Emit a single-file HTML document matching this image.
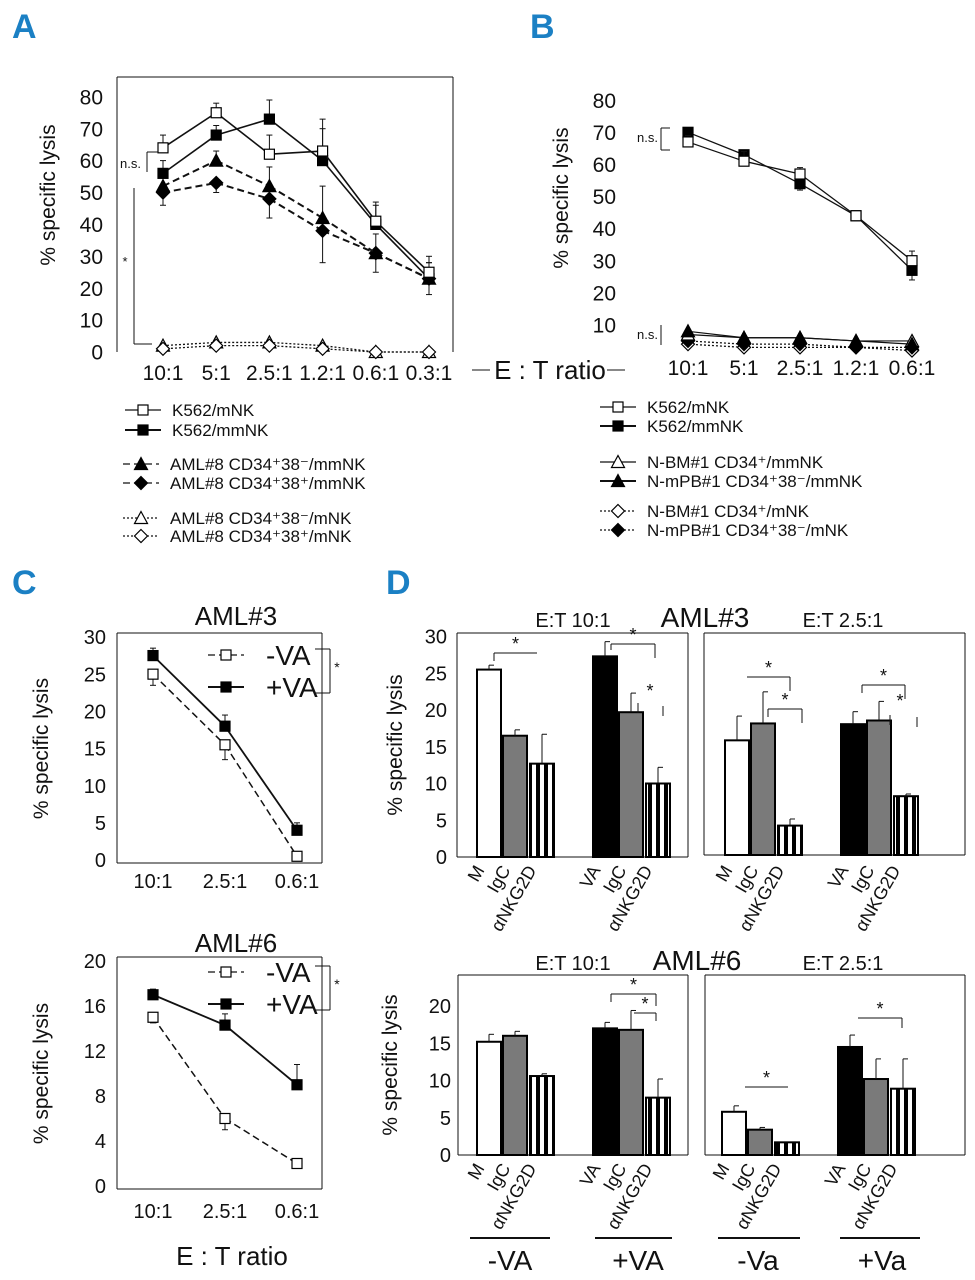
<!DOCTYPE html>
<html><head><meta charset="utf-8">
<style>
html,body{margin:0;padding:0;background:#fff;}
svg{display:block;font-family:"Liberation Sans Narrow","Liberation Sans",sans-serif;}
.lbl{font-family:"Liberation Sans Narrow","Liberation Sans",sans-serif;}
</style></head>
<body>
<svg id="fig" width="975" height="1280" viewBox="0 0 975 1280" xmlns="http://www.w3.org/2000/svg">
<g font-weight="bold" font-size="34" fill="#1b80c4" font-family="Liberation Sans Narrow, Liberation Sans, sans-serif">
<text x="12" y="38">A</text>
<text x="530" y="38">B</text>
<text x="12" y="594">C</text>
<text x="386" y="594">D</text>
</g>
<g id="root"></g>
</svg>
<script>
// ---------- DATA ----------
var catsA = ["10:1","5:1","2.5:1","1.2:1","0.6:1","0.3:1"];
var aK562mNK = [64,75,62,63,41,25];
var aK562mmNK = [56,68,73,60,40,23];
var aAml38negMM = [52,60,52,42,31,23];
var aAml38posMM = [50,53,48,38,31,23];
var aAml38negM = [2,3,3,2,0,0];
var aAml38posM = [1,2,2,1,0,0];
var aErr = [4,3,6,10,6,5];
var yTicksA = [0,10,20,30,40,50,60,70,80];

var catsB = ["10:1","5:1","2.5:1","1.2:1","0.6:1"];
var bK562mNK = [67,61,57,44,30];
var bK562mmNK = [70,63,54,44,27];
var bBMmm = [7,6,6,5,5];
var bPBmm = [8,6,6,5,4];
var bBMm = [4,3,3,3,2];
var bPBm = [5,4,4,3,3];
var yTicksB = [10,20,30,40,50,60,70,80];

var catsC = ["10:1","2.5:1","0.6:1"];
var c3Minus = [25,15.5,0.5];
var c3Plus = [27.5,18,4];
var c6Minus = [15,6,2];
var c6Plus = [17,14.3,9];
var yTicksC3 = [0,5,10,15,20,25,30];
var yTicksC6 = [0,4,8,12,16,20];

var barCats = ["M","IgC","αNKG2D","VA","IgC","αNKG2D"];
var d3Et10 = [25.5,16.5,12.7,27.3,19.7,10];
var d3Et10Err = [0.6,0.8,4,2,2.6,2.2];
var d3Et25 = [15.6,17.9,4,17.8,18.3,8];
var d3Et25Err = [3.3,4.3,0.9,1.7,2.6,0.3];
var d6Et10 = [15.2,16,10.6,17,16.8,7.7];
var d6Et10Err = [1,0.6,0.3,0.8,2.6,2.5];
var d6Et25 = [5.8,3.4,1.7,14.5,10.2,8.9];
var d6Et25Err = [0.8,0.3,0,1.6,2.7,4];
var yTicksD3 = [0,5,10,15,20,25,30];
var yTicksD6 = [0,5,10,15,20];

// ---------- HELPERS ----------
var NS = "http://www.w3.org/2000/svg";
var root = document.getElementById("root");
function mk(tag, attrs, parent){
  var e = document.createElementNS(NS, tag);
  for (var k in attrs) e.setAttribute(k, attrs[k]);
  (parent||root).appendChild(e);
  return e;
}
function txt(x,y,s,size,anchor,parent,name){
  var t = mk("text",{x:x,y:y,"font-size":size,"text-anchor":anchor||"start",fill:"#111"},parent);
  t.textContent = s;
  
  
  return t;
}
function line(x1,y1,x2,y2,w,dash,parent,name){
  var l = mk("line",{x1:x1,y1:y1,x2:x2,y2:y2,stroke:"#111","stroke-width":w||1},parent);
  if(dash) l.setAttribute("stroke-dasharray",dash);
  
  
  return l;
}
function marker(kind,x,y,s,parent,name){
  var e, h=s/2;
  var fill = kind.indexOf("open")===0 ? "#fff" : "#000";
  if(kind.indexOf("sq")>=0) e = mk("rect",{x:x-h,y:y-h,width:s,height:s,fill:fill,stroke:"#000","stroke-width":1.2},parent);
  else if(kind.indexOf("tri")>=0) e = mk("polygon",{points:(x)+","+(y-h-1)+" "+(x+h+1)+","+(y+h)+" "+(x-h-1)+","+(y+h),fill:fill,stroke:"#000","stroke-width":1.2},parent);
  else e = mk("polygon",{points:x+","+(y-h-1)+" "+(x+h+1)+","+y+" "+x+","+(y+h+1)+" "+(x-h-1)+","+y,fill:fill,stroke:"#000","stroke-width":1.2},parent);
  
  
  return e;
}
function series(vals,xs,yf,kind,dash,w,name,errs,errUp){
  var g = mk("g",{});
  
  
  for(var i=0;i<vals.length-1;i++){
    line(xs(i),yf(vals[i]),xs(i+1),yf(vals[i+1]),w,dash,g,name+"-line");
  }
  for(var j=0;j<vals.length;j++){
    if(errs){
      var ey = yf(vals[j]+(errUp?1:-1)*errs[j]);
      line(xs(j),yf(vals[j]),xs(j),ey,1,null,g,name+"-error");
      line(xs(j)-3,ey,xs(j)+3,ey,1,null,g,name+"-error-cap");
    }
    marker(kind,xs(j),yf(vals[j]),kind.indexOf("sq")>=0?10:11,g,name+"-point");
  }
}
function yAxis(ticks,yf,x,lx,size,tickLen){
  for(var i=0;i<ticks.length;i++){
    txt(lx,yf(ticks[i])+size*0.36,String(ticks[i]),size,"end",null,"y-tick-label");
    if(tickLen) line(x-tickLen,yf(ticks[i]),x,yf(ticks[i]),1,null,null,"y-tick");
  }
}
function yTitle(x,y,s,size){
  var t = txt(x,y,s,size,"middle",null,"y-axis-title");
  t.setAttribute("transform","rotate(-90 "+x+" "+y+")");
}

// ---------- PANEL A ----------
(function(){
  var yf = function(v){return 352 - v*3.19;};
  var xp = [163,217,271,323,375,429];
  var xs = function(i){return xp[0] + i*(xp[5]-xp[0])/(catsA.length-1);};
  line(117,77,117,352,1,null,null,"a-y-axis");
  line(117,77,453,77,1,null,null,"a-frame-top");
  line(453,77,453,352,1,null,null,"a-frame-right");
  yAxis(yTicksA,yf,117,103,21,0);
  yTitle(55,195,"% specific lysis",21);
  for(var i=0;i<catsA.length;i++) txt(xs(i),380,catsA[i],21,"middle",null,"a-x-tick-label");
  series(aAml38negM,xs,yf,"open-tri","2,2",1.3,"a-aml8-38neg-mnk");
  series(aAml38posM,xs,yf,"open-dia","2,2",1.3,"a-aml8-38pos-mnk");
  series(aAml38posMM,xs,yf,"fill-dia","7,4",2,"a-aml8-38pos-mmnk",aErr,false);
  series(aAml38negMM,xs,yf,"fill-tri","7,4",2,"a-aml8-38neg-mmnk",aErr,true);
  series(aK562mmNK,xs,yf,"fill-sq",null,1.6,"a-k562-mmnk",aErr,true);
  series(aK562mNK,xs,yf,"open-sq",null,1.6,"a-k562-mnk",aErr,true);
  txt(120,168,"n.s.",13,"start",null,"a-ns-label");
  line(147,152,147,172,1,null,null,"a-ns-bracket");
  line(147,152,158,152,1,null,null,"a-ns-bracket");
  txt(125,266,"*",13,"middle",null,"a-sig-star");
  line(134,188,134,344,1,null,null,"a-sig-bracket");
  line(134,344,152,344,1,null,null,"a-sig-bracket");
})();
txt(550,379,"E : T ratio",26,"middle",null,"x-axis-title-ab");
line(472,370,490,370,1,null,null,"x-axis-title-rule");
line(607,370,625,370,1,null,null,"x-axis-title-rule");

// ---------- PANEL B ----------
(function(){
  var yf = function(v){return 357 - v*3.21;};
  var xs = function(i){return 688 + i*(912-688)/(catsB.length-1);};
  yAxis(yTicksB,yf,630,616,21,0);
  yTitle(568,198,"% specific lysis",21);
  for(var i=0;i<catsB.length;i++) txt(xs(i),375,catsB[i],21,"middle",null,"b-x-tick-label");
  var e = [2,3,2,1,3];
  series(bBMm,xs,yf,"open-dia","2,2",1.3,"b-nbm-cd34-mnk");
  series(bPBm,xs,yf,"fill-dia","2,2",1.3,"b-npb-cd34-mnk");
  series(bBMmm,xs,yf,"open-tri",null,1.2,"b-nbm-cd34-mmnk");
  series(bPBmm,xs,yf,"fill-tri",null,1.2,"b-npb-cd34-mmnk");
  series(bK562mmNK,xs,yf,"fill-sq",null,1.3,"b-k562-mmnk",e,false);
  series(bK562mNK,xs,yf,"open-sq",null,1.3,"b-k562-mnk",e,true);
  txt(637,142,"n.s.",13,"start",null,"b-ns-label");
  line(661,128,661,150,1,null,null,"b-ns-bracket");
  line(661,128,670,128,1,null,null,"b-ns-bracket");
  line(661,150,670,150,1,null,null,"b-ns-bracket");
  txt(637,339,"n.s.",13,"start",null,"b-ns-label-2");
  line(661,325,661,345,1,null,null,"b-ns-bracket-2");
})();

// ---------- LEGENDS ----------
function legend(x,y,kind,dash,label){
  var g = mk("g",{});
  
  
  line(x,y,x+36,y,kind.indexOf("fill")===0&&!dash?2:1.3,dash,g,"legend-line");
  marker(kind,x+18,y,kind.indexOf("sq")>=0?10:11,g,"legend-marker");
  txt(x+47,y+6,label,17,"start",g,"legend-label");
}
legend(125,410,"open-sq",null,"K562/mNK");
legend(125,430,"fill-sq",null,"K562/mmNK");
legend(123,464,"fill-tri","7,4","AML#8 CD34⁺38⁻/mmNK");
legend(123,483,"fill-dia","7,4","AML#8 CD34⁺38⁺/mmNK");
legend(123,518,"open-tri","2,2","AML#8 CD34⁺38⁻/mNK");
legend(123,536,"open-dia","2,2","AML#8 CD34⁺38⁺/mNK");
legend(600,407,"open-sq",null,"K562/mNK");
legend(600,426,"fill-sq",null,"K562/mmNK");
legend(600,462,"open-tri",null,"N-BM#1 CD34⁺/mmNK");
legend(600,481,"fill-tri",null,"N-mPB#1 CD34⁺38⁻/mmNK");
legend(600,511,"open-dia","2,2","N-BM#1 CD34⁺/mNK");
legend(600,530,"fill-dia","2,2","N-mPB#1 CD34⁺38⁻/mNK");

// ---------- PANEL C ----------
function panelC(top,bottom,ticks,maxV,minus,plus,title,titleY,labY,errM,errP,legY){
  var yf = function(v){return bottom - v*(bottom-top)/maxV;};
  var xp0=153, xp1=297;
  var xs = function(i){return xp0 + i*(xp1-xp0)/(catsC.length-1);};
  line(117,top-4,117,bottom+3,1,null,null,"c-y-axis");
  line(117,top-4,322,top-4,1,null,null,"c-frame-top");
  line(322,top-4,322,bottom+3,1,null,null,"c-frame-right");
  line(117,bottom+3,322,bottom+3,1,null,null,"c-x-axis");
  yAxis(ticks,yf,117,106,20,0);
  yTitle(48,(top+bottom)/2,"% specific lysis",21);
  txt(236,titleY,title,26,"middle",null,"c-chart-title");
  for(var i=0;i<catsC.length;i++) txt(xs(i),labY,catsC[i],20,"middle",null,"c-x-tick-label");
  series(minus,xs,yf,"open-sq","7,4",1.5,"c-minus-va",errM,false);
  series(plus,xs,yf,"fill-sq",null,1.8,"c-plus-va",errP,true);
  legend(208,legY,"open-sq","7,4","");
  txt(266,legY+10,"-VA",28,"start",null,"legend-label");
  legend(208,legY+32,"fill-sq",null,"");
  txt(266,legY+42,"+VA",28,"start",null,"legend-label");
  line(315,legY-6,330,legY-6,1,null,null,"c-sig-bracket");
  line(330,legY-6,330,legY+38,1,null,null,"c-sig-bracket");
  line(315,legY+38,330,legY+38,1,null,null,"c-sig-bracket");
  txt(337,legY+17,"*",14,"middle",null,"c-sig-star");
}
panelC(637,860,yTicksC3,30,c3Minus,c3Plus,"AML#3",625,888,[1.5,2,0],[1,1.5,1],655);
panelC(961,1186,yTicksC6,20,c6Minus,c6Plus,"AML#6",952,1218,[0.5,1,0],[0.5,1,1.8],972);
txt(232,1265,"E : T ratio",26,"middle",null,"c-x-axis-title");

// ---------- PANEL D ----------
var barStarts = [0,26,53,116,142,169];
function barChart(x0,base,pxPerUnit,vals,errs,barX,axisX,axisRight,frameTop,frameRight,name){
  var yf = function(v){return base - v*pxPerUnit;};
  line(axisX,base,axisRight,base,1,null,null,name+"-x-axis");
  line(axisX,frameTop,axisX,base,1,null,null,name+"-y-axis");
  line(axisX,frameTop,frameRight,frameTop,1,null,null,name+"-frame-top");
  line(frameRight,frameTop,frameRight,base,1,null,null,name+"-frame-right");
  for(var i=0;i<vals.length;i++){
    var x = barX + barStarts[i], w = 24, y = yf(vals[i]), h = base - y;
    var fill = (i===0)?"#fff":(i===3)?"#000":(i===1||i===4)?"#7a7a7a":"url(#stripes)";
    var r = mk("rect",{x:x,y:y,width:w,height:h,fill:fill,stroke:"#000","stroke-width":2});
    
    
    if(errs[i]>0){
      var ey = yf(vals[i]+errs[i]);
      line(x+w/2,y,x+w/2,ey,1,null,null,name+"-error");
      line(x+w/2,ey,x+w/2+5,ey,1,null,null,name+"-error-cap");
    }
  }
  return yf;
}
var defs = mk("defs",{},document.getElementById("fig"));
var pat = mk("pattern",{id:"stripes",patternUnits:"userSpaceOnUse",width:8,height:8},defs);
mk("rect",{x:0,y:0,width:8,height:8,fill:"#fff"},pat);
mk("rect",{x:0,y:0,width:4,height:8,fill:"#000"},pat);

function catLabels(barX,y){
  var offs=[8,34,60,124,150,176];
  var names=["M","IgC","αNKG2D","VA","IgC","αNKG2D"];
  for(var i=0;i<6;i++){
    var t = txt(barX+offs[i],y,(i==3? "VA": names[i]),18,"end",null,"x-category-label");
    t.setAttribute("transform","rotate(-60 "+(barX+offs[i])+" "+y+")");
  }
}
// AML#3
txt(573,627,"E:T 10:1",20,"middle",null,"d-et-10-title");
txt(705,627,"AML#3",28,"middle",null,"d-aml3-title");
txt(843,627,"E:T 2.5:1",20,"middle",null,"d-et-25-title");
var yfD3 = barChart(0,857,7.35,d3Et10,d3Et10Err,477,457,688,633,688,"d-aml3-et10");
yAxis(yTicksD3,yfD3,457,447,20,0);
yTitle(402,745,"% specific lysis",21);
barChart(0,855,7.35,d3Et25,d3Et25Err,725,704,965,633,965,"d-aml3-et25");
catLabels(477,870); catLabels(725,870);
// AML#6
txt(573,970,"E:T 10:1",20,"middle",null,"d-et-10-title");
txt(697,970,"AML#6",28,"middle",null,"d-aml6-title");
txt(843,970,"E:T 2.5:1",20,"middle",null,"d-et-25-title");
var yfD6 = barChart(0,1155,7.45,d6Et10,d6Et10Err,477,458,688,975,688,"d-aml6-et10");
yAxis(yTicksD6,yfD6,458,451,20,0);
yTitle(397,1065,"% specific lysis",21);
barChart(0,1155,7.45,d6Et25,d6Et25Err,722,705,965,975,965,"d-aml6-et25");
catLabels(477,1168); catLabels(722,1168);

// significance brackets
function br(x1,x2,y,d1,d2,starY){
  line(x1,y+d1,x1,y,1,null,null,"d-sig-bracket");
  line(x1,y,x2,y,1,null,null,"d-sig-bracket");
  line(x2,y,x2,y+d2,1,null,null,"d-sig-bracket");
  txt((x1+x2)/2,starY||y-3,"*",18,"middle",null,"d-sig-star");
}
br(494,537,653,8,0); br(611,655,644,6,14);
line(638,703,638,713,1,null,null,"d-sig-bracket"); line(663,706,663,716,1,null,null,"d-sig-bracket"); txt(650,697,"*",18,"middle",null,"d-sig-star");
br(747,790,677,0,14); br(768,802,709,8,14);
br(862,905,685,8,14);
line(890,715,890,725,1,null,null,"d-sig-bracket"); line(917,717,917,727,1,null,null,"d-sig-bracket"); txt(900,707,"*",18,"middle",null,"d-sig-star");
br(611,656,994,8,12); br(634,656,1013,0,8);
br(745,788,1087,0,0);
br(858,902,1018,0,10);

// bottom group rules
var grp = [["-VA",470,550,510],["+VA",595,672,638],["-Va",718,800,758],["+Va",840,920,882]];
for(var g=0;g<grp.length;g++){
  line(grp[g][1],1238,grp[g][2],1238,2,null,null,"group-rule");
  txt(grp[g][3],1270,grp[g][0],28,"middle",null,"group-label");
}
</script>
</body></html>
